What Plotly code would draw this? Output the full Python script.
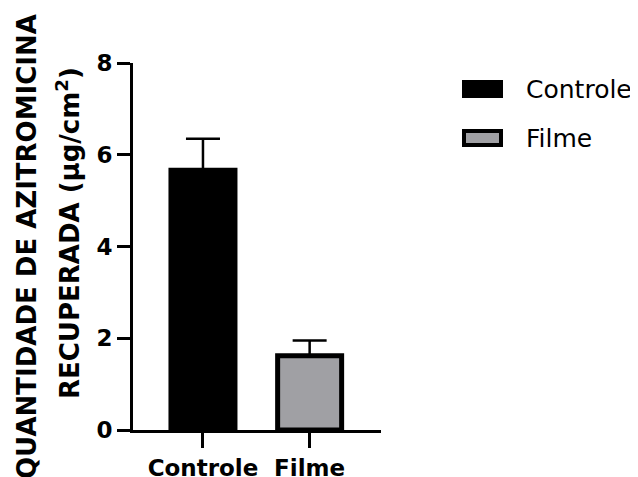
import plotly.graph_objects as go

categories = ["Controle", "Filme"]
means = [5.66, 1.62]
errors = [0.69, 0.33]
colors = ["#000000", "#a0a0a4"]
y_ticks = [0, 2, 4, 6, 8]
title_line1 = "QUANTIDADE DE AZITROMICINA"
title_line2 = "RECUPERADA (μg/cm<sup>2</sup>)"

# The page body adds an 8px offset; size the figure so it fills the window.
OFF = 8
W, H = 638 - OFF, 477 - OFF
L, R, T, B = 133 - OFF, 257, 63 - OFF, 47
pw, ph = W - L - R, H - T - B


def px_x(px):
    return (px - OFF - L) / pw


def px_y(py):
    return (H + OFF - B - py) / ph


fig = go.Figure()
for i, cat in enumerate(categories):
    fig.add_trace(go.Bar(
        x=[cat], y=[means[i]], name=cat, showlegend=False,
        width=0.6,
        marker=dict(color=colors[i], line=dict(color="black", width=5)),
        error_y=dict(type="data", array=[errors[i]], symmetric=False,
                     arrayminus=[0], color="black", thickness=2.5, width=17),
    ))

font_fam = "DejaVu Sans"
fig.update_layout(
    width=W, height=H,
    margin=dict(l=L, r=R, t=T, b=B, autoexpand=False),
    plot_bgcolor="white", paper_bgcolor="white",
    barmode="overlay",
    showlegend=False,
    xaxis=dict(
        range=[-0.656, 1.669], showline=True, linewidth=3, linecolor="black",
        ticks="outside", ticklen=15, tickwidth=3, tickcolor="black",
        showgrid=False, zeroline=False,
        tickfont=dict(family=font_fam, size=23, color="black", weight="bold"),
    ),
    yaxis=dict(
        range=[0, 8], tickvals=y_ticks, showline=True, linewidth=3, linecolor="black",
        ticks="outside", ticklen=13, tickwidth=3, tickcolor="black",
        showgrid=False, zeroline=False,
        tickfont=dict(family=font_fam, size=23, color="black", weight="bold"),
    ),
)

# Axis title (two lines)
fig.add_annotation(
    text=title_line1, textangle=-90, xref="paper", yref="paper",
    x=px_x(27), y=px_y(247), xanchor="center", yanchor="middle",
    showarrow=False, font=dict(family=font_fam, size=26, color="black", weight="bold"),
)
fig.add_annotation(
    text=title_line2, textangle=-90, xref="paper", yref="paper",
    x=px_x(68), y=px_y(233), xanchor="center", yanchor="middle",
    showarrow=False, font=dict(family=font_fam, size=26, color="black", weight="bold"),
)

# Legend (key boxes + labels)
legend_rows = [89, 138]
for i, cat in enumerate(categories):
    cy = legend_rows[i]
    fig.add_shape(
        type="rect", xref="paper", yref="paper",
        x0=px_x(464), x1=px_x(501), y0=px_y(cy - 7), y1=px_y(cy + 7),
        fillcolor=colors[i], line=dict(color="black", width=4),
    )
    fig.add_annotation(
        text=cat, xref="paper", yref="paper", x=px_x(524), y=px_y(cy),
        xanchor="left", yanchor="middle", showarrow=False,
        font=dict(family=font_fam, size=25, color="black"),
    )

fig.write_html("out.html")
